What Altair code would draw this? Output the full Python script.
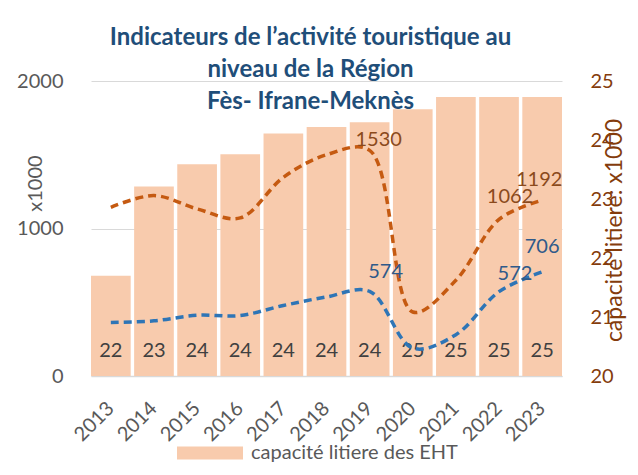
import altair as alt
import pandas as pd

years = ["2013", "2014", "2015", "2016", "2017", "2018", "2019", "2020", "2021", "2022", "2023"]
capacite = [21.70, 23.21, 23.59, 23.76, 24.11, 24.22, 24.30, 24.52, 24.73, 24.73, 24.73]
nuitees = [1144, 1223, 1133, 1072, 1347, 1500, 1530, 434, 649, 1062, 1192]
arrivees = [363, 374, 412, 410, 478, 536, 574, 189, 280, 572, 706]

title_lines = ["Indicateurs de l\u2019activit\u00e9 touristique au", "niveau de la R\u00e9gion", "F\u00e8s- Ifrane-Mekn\u00e8s"]
legend_label = "capacit\u00e9 litiere des EHT"

df = pd.DataFrame({"annee": years, "capacite": capacite, "nuitees": nuitees, "arrivees": arrivees})

FONT = "Lato"
GRAY = "#595959"
BROWN = "#843C0C"
ORANGE = "#C55A11"
BLUE = "#2E75B6"
BAR = "#F8CBAD"

xenc = alt.X(
    "annee:N", sort=years,
    scale=alt.Scale(paddingInner=0.08, paddingOuter=0),
    axis=alt.Axis(title=None, labelAngle=315, labelAlign="right", labelBaseline="middle",
                  labelFontSize=20, labelColor=GRAY, labelFont=FONT, ticks=False,
                  domainColor="#d9d9d9", domainWidth=1.5, labelPadding=29, grid=False),
)

ybar = alt.Scale(domain=[20, 25], zero=False, nice=False)
bars = alt.Chart(df).mark_bar(color=BAR).encode(
    x=xenc,
    y=alt.Y("capacite:Q", scale=ybar,
            axis=alt.Axis(orient="right", values=[20, 21, 22, 23, 24, 25], format="d", grid=False, ticks=False,
                          domain=False, labelColor=BROWN, labelFontSize=20, labelFont=FONT,
                          labelPadding=28, title="capacit\u00e9 litiere: x1000", titleColor=BROWN,
                          titleFont=FONT, titleFontSize=23, titleFontWeight="normal",
                          titleAngle=270, titleX=52, titleY=149, titleAlign="center",
                          titleBaseline="middle")),
    y2=alt.datum(20),
    color=alt.Color("serie:N", scale=alt.Scale(range=[BAR]),
                    legend=alt.Legend(title=None, orient="none", legendX=86, legendY=339,
                                      symbolType="M-1,-0.2L1,-0.2L1,0.2L-1,0.2Z", symbolSize=4356,
                                      symbolStrokeWidth=0, labelFontSize=20, labelFont=FONT,
                                      labelColor=GRAY, padding=0, labelOffset=8, labelLimit=500)),
).transform_calculate(serie=f"'{legend_label}'")

bar_text = alt.Chart(df).mark_text(fontSize=20, font=FONT, color="#404040", baseline="middle").encode(
    x=xenc,
    y=alt.datum(20.42, scale=ybar),
    text=alt.Text("capacite:Q", format=".0f"),
)

bar_layer = alt.layer(bars, bar_text)

yline_scale = alt.Scale(domain=[0, 2000], nice=False)
yline_axis = alt.Axis(values=[0, 1000, 2000], format="d", grid=True, gridColor="#d9d9d9", ticks=False, domain=False,
                      labelColor=GRAY, labelFontSize=20, labelFont=FONT, labelPadding=28,
                      title="x1000", titleColor=GRAY, titleFont=FONT, titleFontSize=20,
                      titleFontWeight="normal", titleAngle=270, titleX=-56, titleY=102,
                      titleAlign="center", titleBaseline="middle")

line_n = alt.Chart(df).mark_line(color=ORANGE, strokeWidth=3.5, strokeDash=[8, 5], interpolate="catmull-rom").encode(
    x=xenc, y=alt.Y("nuitees:Q", scale=yline_scale, axis=yline_axis))
line_a = alt.Chart(df).mark_line(color=BLUE, strokeWidth=3.5, strokeDash=[8, 5], interpolate="catmull-rom").encode(
    x=xenc, y=alt.Y("arrivees:Q", scale=yline_scale, axis=yline_axis))

labels = [
    ("nuitees", "2019", 9, -10, "#8B4A1C"),
    ("nuitees", "2022", 11, -22, "#8B4A1C"),
    ("nuitees", "2023", -3, -20, "#8B4A1C"),
    ("arrivees", "2019", 16, -19, "#2F5A8A"),
    ("arrivees", "2022", 16, -18, "#2F5A8A"),
    ("arrivees", "2023", 0, -25, "#2F5A8A"),
]
label_layers = []
for field, yr, dx, dy, col in labels:
    label_layers.append(
        alt.Chart(df).transform_filter(alt.datum.annee == yr).mark_text(
            fontSize=20, font=FONT, color=col, dx=dx, dy=dy, align="center", baseline="middle"
        ).encode(x=xenc, y=alt.Y(f"{field}:Q", scale=yline_scale, axis=yline_axis), text=f"{field}:Q")
    )

line_layer = alt.layer(line_n, line_a, *label_layers)

chart = alt.layer(bar_layer, line_layer).resolve_scale(y="independent").properties(
    width=471, height=295,
    autosize=alt.AutoSizeParams(type="none"),
    padding={"left": 83, "top": 73, "right": 68, "bottom": 91},
    title=alt.TitleParams(title_lines, anchor="middle", fontSize=24, font=FONT, fontWeight="bold",
                          color="#1F4E79", lineHeight=32, dx=-16, offset=0, dy=43),
).configure_view(stroke=None)

chart.save("out.html", embed_options={"renderer": "svg", "actions": False})
